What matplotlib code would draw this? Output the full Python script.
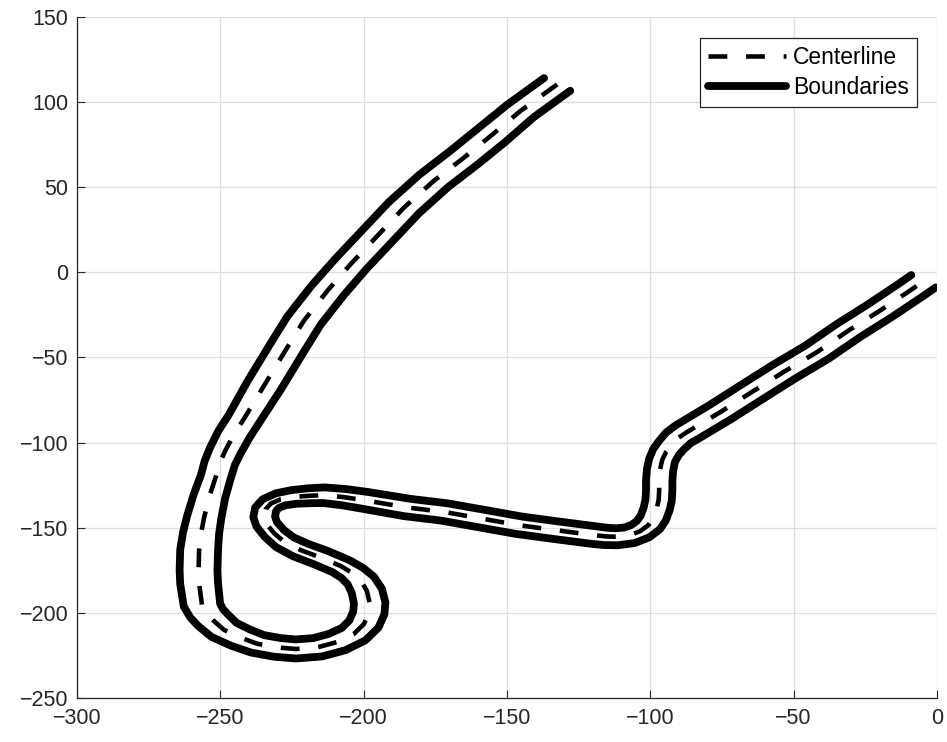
import matplotlib
matplotlib.use('Agg')
import matplotlib.pyplot as plt
import numpy as np

# track centerline (start at the top end, finish at the right end)
center_x = [-132.5, -145.3, -155.7, -165.0, -175.5, -185.9, -195.2, -204.5, -212.6, -220.8,
            -226.6, -234.7, -241.7, -245.2, -248.2, -250.2, -251.6, -253.8, -255.6, -256.7,
            -257.4, -257.6, -257.4, -256.4, -254.8, -252.6, -248.7, -243.0, -237.0, -230.0,
            -223.7, -216.0, -209.2, -203.5, -199.9, -198.2, -197.9, -198.9, -201.0, -204.0,
            -208.0, -215.0, -222.0, -227.5, -231.2, -233.8, -234.7, -234.2, -232.4, -229.0,
            -224.3, -219.0, -213.8, -207.0, -199.9, -184.8, -172.0, -159.2, -145.9, -133.1,
            -119.8, -115.5, -111.6, -107.2, -103.5, -100.7, -99.0, -97.8, -97.1, -96.9,
            -96.9, -96.6, -95.9, -94.5, -92.6, -90.2, -87.2, -75.6, -64.6, -53.6,
            -41.9, -30.9, -19.9, -9.4, -4.7]
center_y = [110.4, 94.8, 80.1, 67.4, 53.8, 38.1, 21.5, 4.9, -10.7, -28.3,
            -44.0, -66.4, -85.9, -95.0, -104.5, -112.0, -120.2, -131.5, -143.6, -153.0,
            -163.1, -175.0, -182.7, -195.4, -200.2, -204.2, -210.0, -214.5, -218.2, -220.3,
            -221.2, -220.2, -217.1, -212.5, -206.5, -200.0, -194.2, -187.0, -181.0, -176.5,
            -172.5, -167.5, -163.1, -158.5, -153.3, -148.0, -143.6, -139.2, -135.8, -133.3,
            -131.9, -131.2, -130.9, -132.0, -133.8, -138.1, -140.7, -144.5, -148.5, -151.4,
            -154.3, -155.1, -155.3, -154.4, -152.0, -148.5, -144.4, -139.0, -133.8, -128.0,
            -122.1, -116.0, -110.4, -105.5, -101.5, -97.2, -93.8, -82.1, -70.3, -58.6,
            -46.9, -34.2, -22.5, -10.7, -5.2]
# half width of the road at each centerline point
half_width = [5.9, 5.9, 6.2, 6.2, 6.2, 6.2, 6.2, 6.2, 6.3, 6.3,
              6.3, 6.3, 5.8, 5.8, 5.6, 5.4, 5.3, 5.6, 6.0, 6.3,
              6.6, 6.6, 6.6, 6.4, 6.2, 6.2, 6.0, 5.8, 5.6, 5.6,
              5.6, 5.6, 5.6, 5.5, 5.5, 5.5, 5.5, 5.4, 5.1, 4.8,
              4.6, 4.6, 4.5, 4.2, 3.9, 3.8, 3.8, 3.8, 3.8, 3.9,
              4.1, 4.4, 4.6, 4.8, 5.0, 5.2, 5.2, 5.2, 5.2, 5.2,
              5.2, 5.1, 5.0, 4.9, 4.8, 4.7, 4.6, 4.6, 4.6, 4.6,
              4.6, 4.6, 4.6, 4.8, 5.0, 5.3, 5.6, 5.6, 5.6, 5.6,
              5.6, 5.6, 5.6, 5.6, 5.6]

plt.rcParams['font.family'] = ['Liberation Sans', 'DejaVu Sans']

cx = np.array(center_x)
cy = np.array(center_y)
w = np.array(half_width)

# boundaries: offset the centerline along its normal
tx = np.gradient(cx)
ty = np.gradient(cy)
norm = np.hypot(tx, ty)
nx = ty / norm
ny = -tx / norm
right_x, right_y = cx + w * nx, cy + w * ny
left_x, left_y = cx - w * nx, cy - w * ny

fig = plt.figure(figsize=(9.47, 7.42), dpi=100)
ax = fig.add_axes([0.0813, 0.0593, 0.9081, 0.9178])

ax.plot(cx, cy, color='k', lw=3.3, dashes=(4.1, 4.1), dash_joinstyle='round',
        label='Centerline')
ax.plot(right_x, right_y, color='k', lw=5.6, solid_joinstyle='round',
        solid_capstyle='round', label='Boundaries')
ax.plot(left_x, left_y, color='k', lw=5.6, solid_joinstyle='round',
        solid_capstyle='round')

ax.set_xlim(-300, 0)
ax.set_ylim(-250, 150)
ax.set_xticks(np.arange(-300, 1, 50))
ax.set_yticks(np.arange(-250, 151, 50))
ax.grid(True, color='#dedede', lw=0.9)
ax.set_axisbelow(True)
for s in ['top', 'right']:
    ax.spines[s].set_visible(False)
for s in ['left', 'bottom']:
    ax.spines[s].set_color('#262626')
    ax.spines[s].set_linewidth(0.9)
ax.tick_params(direction='in', length=6, width=0.8, colors='#262626', labelsize=15.5)
ax.tick_params(axis='x', pad=7)
ax.tick_params(axis='y', pad=6)

leg = ax.legend(loc='upper right', bbox_to_anchor=(0.9767, 0.9692), borderaxespad=0,
                fancybox=False, framealpha=1, edgecolor='#262626', fontsize=16.5,
                handlelength=3.4, handletextpad=0.3, labelspacing=0.3, borderpad=0.35)
leg.get_frame().set_linewidth(0.9)

fig.savefig('out.png', dpi=100)
